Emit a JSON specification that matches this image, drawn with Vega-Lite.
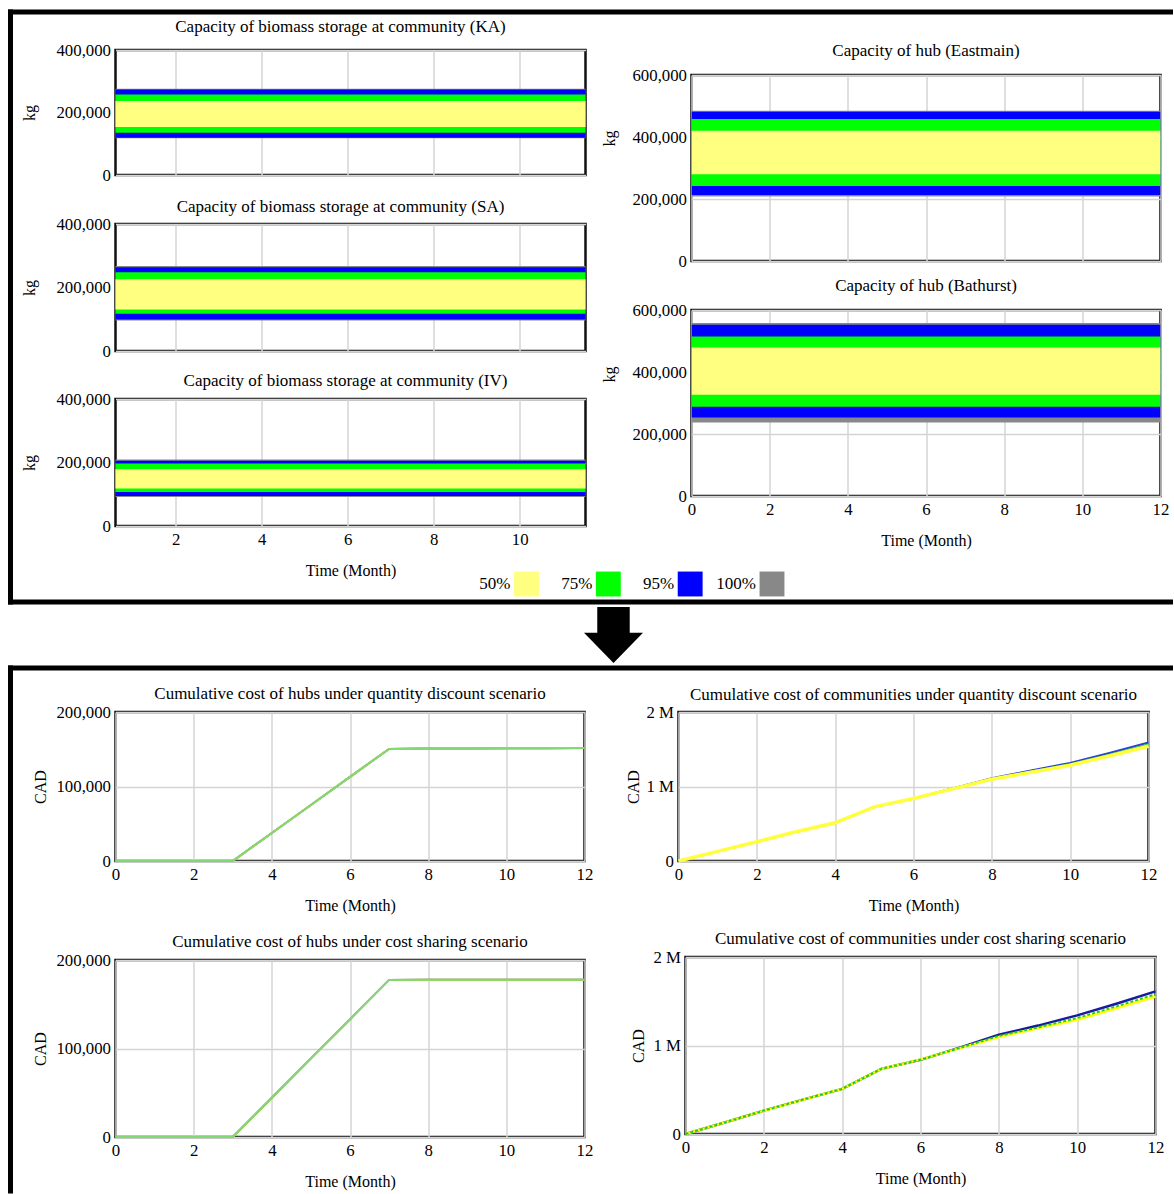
{
"$schema":"https://vega.github.io/schema/vega-lite/v6.json",
"usermeta":{"embedOptions":{"actions":false}},
"padding":{"left":7.5,"top":9,"right":0,"bottom":0},
"autosize":{"type":"pad"},
"background":"white",
"data":{"values":[{"d":0}]},
"datasets":{
"bands":[
{"panel":"KA","band":"100%","lo":117900,"hi":275700,"t0":0,"t1":12},
{"panel":"KA","band":"95%","lo":119500,"hi":273700,"t0":0,"t1":12},
{"panel":"KA","band":"75%","lo":135600,"hi":257700,"t0":0,"t1":12},
{"panel":"KA","band":"50%","lo":153600,"hi":237100,"t0":0,"t1":12},
{"panel":"SA","band":"100%","lo":96400,"hi":267500,"t0":0,"t1":12},
{"panel":"SA","band":"95%","lo":99500,"hi":263800,"t0":0,"t1":12},
{"panel":"SA","band":"75%","lo":117400,"hi":248000,"t0":0,"t1":12},
{"panel":"SA","band":"50%","lo":130900,"hi":226000,"t0":0,"t1":12},
{"panel":"IV","band":"100%","lo":91600,"hi":209600,"t0":0,"t1":12},
{"panel":"IV","band":"95%","lo":94700,"hi":205200,"t0":0,"t1":12},
{"panel":"IV","band":"75%","lo":107300,"hi":197000,"t0":0,"t1":12},
{"panel":"IV","band":"50%","lo":118100,"hi":179000,"t0":0,"t1":12},
{"panel":"Eastmain","band":"100%","lo":207800,"hi":484700,"t0":0,"t1":12},
{"panel":"Eastmain","band":"95%","lo":213300,"hi":481400,"t0":0,"t1":12},
{"panel":"Eastmain","band":"75%","lo":242300,"hi":457800,"t0":0,"t1":12},
{"panel":"Eastmain","band":"50%","lo":280100,"hi":420000,"t0":0,"t1":12},
{"panel":"Bathurst","band":"100%","lo":236800,"hi":558000,"t0":0,"t1":12},
{"panel":"Bathurst","band":"95%","lo":253000,"hi":552500,"t0":0,"t1":12},
{"panel":"Bathurst","band":"75%","lo":287600,"hi":514700,"t0":0,"t1":12},
{"panel":"Bathurst","band":"50%","lo":326300,"hi":479200,"t0":0,"t1":12}
],
"lines":[
{"chart":"HQD","series":"95%","t":0,"v":0},{"chart":"HQD","series":"95%","t":1,"v":0},{"chart":"HQD","series":"95%","t":2,"v":0},{"chart":"HQD","series":"95%","t":3,"v":0},{"chart":"HQD","series":"95%","t":4,"v":37600},{"chart":"HQD","series":"95%","t":5,"v":75200},{"chart":"HQD","series":"95%","t":6,"v":112900},{"chart":"HQD","series":"95%","t":7,"v":150500},{"chart":"HQD","series":"95%","t":8,"v":150900},{"chart":"HQD","series":"95%","t":9,"v":151100},{"chart":"HQD","series":"95%","t":10,"v":151300},{"chart":"HQD","series":"95%","t":11,"v":151500},{"chart":"HQD","series":"95%","t":12,"v":151700},
{"chart":"HQD","series":"50%","t":0,"v":0},{"chart":"HQD","series":"50%","t":1,"v":0},{"chart":"HQD","series":"50%","t":2,"v":0},{"chart":"HQD","series":"50%","t":3,"v":0},{"chart":"HQD","series":"50%","t":4,"v":37600},{"chart":"HQD","series":"50%","t":5,"v":75200},{"chart":"HQD","series":"50%","t":6,"v":112900},{"chart":"HQD","series":"50%","t":7,"v":150500},{"chart":"HQD","series":"50%","t":8,"v":150900},{"chart":"HQD","series":"50%","t":9,"v":151100},{"chart":"HQD","series":"50%","t":10,"v":151300},{"chart":"HQD","series":"50%","t":11,"v":151500},{"chart":"HQD","series":"50%","t":12,"v":151700},
{"chart":"HQD","series":"75%","t":0,"v":0},{"chart":"HQD","series":"75%","t":1,"v":0},{"chart":"HQD","series":"75%","t":2,"v":0},{"chart":"HQD","series":"75%","t":3,"v":0},{"chart":"HQD","series":"75%","t":4,"v":37600},{"chart":"HQD","series":"75%","t":5,"v":75200},{"chart":"HQD","series":"75%","t":6,"v":112900},{"chart":"HQD","series":"75%","t":7,"v":150500},{"chart":"HQD","series":"75%","t":8,"v":150900},{"chart":"HQD","series":"75%","t":9,"v":151100},{"chart":"HQD","series":"75%","t":10,"v":151300},{"chart":"HQD","series":"75%","t":11,"v":151500},{"chart":"HQD","series":"75%","t":12,"v":151700},
{"chart":"HCS","series":"95%","t":0,"v":0},{"chart":"HCS","series":"95%","t":1,"v":0},{"chart":"HCS","series":"95%","t":2,"v":0},{"chart":"HCS","series":"95%","t":3,"v":0},{"chart":"HCS","series":"95%","t":4,"v":44400},{"chart":"HCS","series":"95%","t":5,"v":88800},{"chart":"HCS","series":"95%","t":6,"v":133100},{"chart":"HCS","series":"95%","t":7,"v":177500},{"chart":"HCS","series":"95%","t":8,"v":177600},{"chart":"HCS","series":"95%","t":9,"v":177700},{"chart":"HCS","series":"95%","t":10,"v":177700},{"chart":"HCS","series":"95%","t":11,"v":177800},{"chart":"HCS","series":"95%","t":12,"v":177800},
{"chart":"HCS","series":"50%","t":0,"v":0},{"chart":"HCS","series":"50%","t":1,"v":0},{"chart":"HCS","series":"50%","t":2,"v":0},{"chart":"HCS","series":"50%","t":3,"v":0},{"chart":"HCS","series":"50%","t":4,"v":44400},{"chart":"HCS","series":"50%","t":5,"v":88800},{"chart":"HCS","series":"50%","t":6,"v":133100},{"chart":"HCS","series":"50%","t":7,"v":177500},{"chart":"HCS","series":"50%","t":8,"v":177600},{"chart":"HCS","series":"50%","t":9,"v":177700},{"chart":"HCS","series":"50%","t":10,"v":177700},{"chart":"HCS","series":"50%","t":11,"v":177800},{"chart":"HCS","series":"50%","t":12,"v":177800},
{"chart":"HCS","series":"75%","t":0,"v":0},{"chart":"HCS","series":"75%","t":1,"v":0},{"chart":"HCS","series":"75%","t":2,"v":0},{"chart":"HCS","series":"75%","t":3,"v":0},{"chart":"HCS","series":"75%","t":4,"v":44400},{"chart":"HCS","series":"75%","t":5,"v":88800},{"chart":"HCS","series":"75%","t":6,"v":133100},{"chart":"HCS","series":"75%","t":7,"v":177500},{"chart":"HCS","series":"75%","t":8,"v":177600},{"chart":"HCS","series":"75%","t":9,"v":177700},{"chart":"HCS","series":"75%","t":10,"v":177700},{"chart":"HCS","series":"75%","t":11,"v":177800},{"chart":"HCS","series":"75%","t":12,"v":177800},
{"chart":"CQD","series":"95%","t":0,"v":0},{"chart":"CQD","series":"95%","t":1,"v":129000},{"chart":"CQD","series":"95%","t":2,"v":258500},{"chart":"CQD","series":"95%","t":3,"v":392000},{"chart":"CQD","series":"95%","t":4,"v":513000},{"chart":"CQD","series":"95%","t":5,"v":727000},{"chart":"CQD","series":"95%","t":6,"v":840000},{"chart":"CQD","series":"95%","t":7,"v":975000},{"chart":"CQD","series":"95%","t":8,"v":1110000},{"chart":"CQD","series":"95%","t":9,"v":1215000},{"chart":"CQD","series":"95%","t":10,"v":1317000},{"chart":"CQD","series":"95%","t":11,"v":1450000},{"chart":"CQD","series":"95%","t":12,"v":1590000},
{"chart":"CQD","series":"75%","t":0,"v":0},{"chart":"CQD","series":"75%","t":1,"v":129000},{"chart":"CQD","series":"75%","t":2,"v":258500},{"chart":"CQD","series":"75%","t":3,"v":392000},{"chart":"CQD","series":"75%","t":4,"v":513000},{"chart":"CQD","series":"75%","t":5,"v":727000},{"chart":"CQD","series":"75%","t":6,"v":840000},{"chart":"CQD","series":"75%","t":7,"v":972000},{"chart":"CQD","series":"75%","t":8,"v":1105000},{"chart":"CQD","series":"75%","t":9,"v":1200000},{"chart":"CQD","series":"75%","t":10,"v":1300000},{"chart":"CQD","series":"75%","t":11,"v":1428000},{"chart":"CQD","series":"75%","t":12,"v":1565000},
{"chart":"CQD","series":"50%","t":0,"v":0},{"chart":"CQD","series":"50%","t":1,"v":129000},{"chart":"CQD","series":"50%","t":2,"v":258500},{"chart":"CQD","series":"50%","t":3,"v":392000},{"chart":"CQD","series":"50%","t":4,"v":513000},{"chart":"CQD","series":"50%","t":5,"v":727000},{"chart":"CQD","series":"50%","t":6,"v":838000},{"chart":"CQD","series":"50%","t":7,"v":968000},{"chart":"CQD","series":"50%","t":8,"v":1098000},{"chart":"CQD","series":"50%","t":9,"v":1190000},{"chart":"CQD","series":"50%","t":10,"v":1286000},{"chart":"CQD","series":"50%","t":11,"v":1410000},{"chart":"CQD","series":"50%","t":12,"v":1540000},
{"chart":"CCS","series":"95%","t":0,"v":0},{"chart":"CCS","series":"95%","t":1,"v":130000},{"chart":"CCS","series":"95%","t":2,"v":264000},{"chart":"CCS","series":"95%","t":3,"v":388000},{"chart":"CCS","series":"95%","t":4,"v":510000},{"chart":"CCS","series":"95%","t":5,"v":736000},{"chart":"CCS","series":"95%","t":6,"v":838000},{"chart":"CCS","series":"95%","t":7,"v":975000},{"chart":"CCS","series":"95%","t":8,"v":1121000},{"chart":"CCS","series":"95%","t":9,"v":1225000},{"chart":"CCS","series":"95%","t":10,"v":1340000},{"chart":"CCS","series":"95%","t":11,"v":1472000},{"chart":"CCS","series":"95%","t":12,"v":1611000},
{"chart":"CCS","series":"75%","t":0,"v":0},{"chart":"CCS","series":"75%","t":1,"v":130000},{"chart":"CCS","series":"75%","t":2,"v":264000},{"chart":"CCS","series":"75%","t":3,"v":388000},{"chart":"CCS","series":"75%","t":4,"v":510000},{"chart":"CCS","series":"75%","t":5,"v":736000},{"chart":"CCS","series":"75%","t":6,"v":840000},{"chart":"CCS","series":"75%","t":7,"v":972000},{"chart":"CCS","series":"75%","t":8,"v":1108000},{"chart":"CCS","series":"75%","t":9,"v":1205000},{"chart":"CCS","series":"75%","t":10,"v":1310000},{"chart":"CCS","series":"75%","t":11,"v":1442000},{"chart":"CCS","series":"75%","t":12,"v":1578000},
{"chart":"CCS","series":"50%","t":0,"v":0},{"chart":"CCS","series":"50%","t":1,"v":130000},{"chart":"CCS","series":"50%","t":2,"v":264000},{"chart":"CCS","series":"50%","t":3,"v":388000},{"chart":"CCS","series":"50%","t":4,"v":510000},{"chart":"CCS","series":"50%","t":5,"v":736000},{"chart":"CCS","series":"50%","t":6,"v":843000},{"chart":"CCS","series":"50%","t":7,"v":970000},{"chart":"CCS","series":"50%","t":8,"v":1096000},{"chart":"CCS","series":"50%","t":9,"v":1195000},{"chart":"CCS","series":"50%","t":10,"v":1291000},{"chart":"CCS","series":"50%","t":11,"v":1420000},{"chart":"CCS","series":"50%","t":12,"v":1555000}
]
},
"bounds":"flush",
"spacing":0,
"vconcat":[
{"vconcat":[{"width":1160,"height":0.001,"view":{"stroke":"black","strokeWidth":5},"mark":{"type":"point","size":0,"opacity":0}}],"spacing":0,"bounds":"flush"},
{"hconcat":[
 {"width":105,"height":0.001,"mark":{"type":"point","size":0,"opacity":0}},
 {"vconcat":[
  {"width":0.001,"height":38,"mark":{"type":"point","size":0,"opacity":0}},
  {"width":470,"height":125,"view":{"stroke":"#111","strokeWidth":2.5},
   "title":{"text":"Capacity of biomass storage at community (KA)","offset":6.3,"dx":-10},
   "data":{"name":"bands"},"transform":[{"filter":"datum.panel === 'KA'"}],
   "mark":{"type":"rect","clip":true},
   "encoding":{
    "x":{"field":"t0","type":"quantitative","scale":{"domain":[0.6,11.53],"nice":false,"zero":false},"axis":{"values":[2,4,6,8,10],"labels":false,"title":null}},
    "x2":{"field":"t1"},
    "y":{"field":"lo","type":"quantitative","scale":{"domain":[0,400000],"nice":false},"axis":{"values":[0,200000,400000],"format":",d","title":"kg","titlePadding":18}},
    "y2":{"field":"hi"},
    "color":{"field":"band","type":"nominal","scale":{"domain":["50%","75%","95%","100%"],"range":["#ffff80","#00ff00","#0000ff","#888888"]},"legend":null}}},
  {"width":0.001,"height":49,"mark":{"type":"point","size":0,"opacity":0}},
  {"width":470,"height":127,"view":{"stroke":"#111","strokeWidth":2.5},
   "title":{"text":"Capacity of biomass storage at community (SA)","offset":0,"dx":-10},
   "data":{"name":"bands"},"transform":[{"filter":"datum.panel === 'SA'"}],
   "mark":{"type":"rect","clip":true},
   "encoding":{
    "x":{"field":"t0","type":"quantitative","scale":{"domain":[0.6,11.53],"nice":false,"zero":false},"axis":{"values":[2,4,6,8,10],"labels":false,"title":null}},
    "x2":{"field":"t1"},
    "y":{"field":"lo","type":"quantitative","scale":{"domain":[0,400000],"nice":false},"axis":{"values":[0,200000,400000],"format":",d","title":"kg","titlePadding":18}},
    "y2":{"field":"hi"},
    "color":{"field":"band","type":"nominal","scale":{"domain":["50%","75%","95%","100%"],"range":["#ffff80","#00ff00","#0000ff","#888888"]},"legend":null}}},
  {"width":0.001,"height":48,"mark":{"type":"point","size":0,"opacity":0}},
  {"width":470,"height":127,"view":{"stroke":"#111","strokeWidth":2.5},
   "title":{"text":"Capacity of biomass storage at community (IV)","offset":1.3,"dx":-5},
   "data":{"name":"bands"},"transform":[{"filter":"datum.panel === 'IV'"}],
   "mark":{"type":"rect","clip":true},
   "encoding":{
    "x":{"field":"t0","type":"quantitative","scale":{"domain":[0.6,11.53],"nice":false,"zero":false},"axis":{"values":[2,4,6,8,10],"title":"Time (Month)"}},
    "x2":{"field":"t1"},
    "y":{"field":"lo","type":"quantitative","scale":{"domain":[0,400000],"nice":false},"axis":{"values":[0,200000,400000],"format":",d","title":"kg","titlePadding":18}},
    "y2":{"field":"hi"},
    "color":{"field":"band","type":"nominal","scale":{"domain":["50%","75%","95%","100%"],"range":["#ffff80","#00ff00","#0000ff","#888888"]},"legend":null}}},
  {"width":0.001,"height":46,"mark":{"type":"point","size":0,"opacity":0}},
  {"hconcat":[
   {"width":411,"height":0.001,"mark":{"type":"point","size":0,"opacity":0}},
   {"width":245.5,"height":24,
    "data":{"values":[{"pct":"50%"},{"pct":"75%"},{"pct":"95%"},{"pct":"100%"}]},
    "encoding":{"x":{"field":"pct","type":"nominal","sort":null,"scale":{"type":"point","padding":0},"axis":null}},
    "layer":[
     {"mark":{"type":"square","size":620,"opacity":1,"strokeWidth":0},"encoding":{"color":{"field":"pct","type":"nominal","scale":{"domain":["50%","75%","95%","100%"],"range":["#ffff80","#00ff00","#0000ff","#888888"]},"legend":null}}},
     {"mark":{"type":"text","align":"right","baseline":"middle","dx":-16,"font":"Liberation Serif","fontSize":17,"color":"#000"},"encoding":{"text":{"field":"pct"}}}
    ]}
  ],"spacing":0,"bounds":"flush"}
 ],"spacing":0,"bounds":"flush"},
 {"width":576,"height":0.001,"mark":{"type":"point","size":0,"opacity":0}},
 {"vconcat":[
  {"width":0.001,"height":63,"mark":{"type":"point","size":0,"opacity":0}},
  {"width":469,"height":186,"view":{"stroke":"#111","strokeWidth":2.5},
   "title":{"text":"Capacity of hub (Eastmain)","offset":7.3},
   "data":{"name":"bands"},"transform":[{"filter":"datum.panel === 'Eastmain'"}],
   "mark":{"type":"rect","clip":true},
   "encoding":{
    "x":{"field":"t0","type":"quantitative","scale":{"domain":[0,12],"nice":false},"axis":{"values":[0,2,4,6,8,10,12],"labels":false,"title":null}},
    "x2":{"field":"t1"},
    "y":{"field":"lo","type":"quantitative","scale":{"domain":[0,600000],"nice":false},"axis":{"values":[0,200000,400000,600000],"format":",d","title":"kg","titlePadding":14,"titleY":63}},
    "y2":{"field":"hi"},
    "color":{"field":"band","type":"nominal","scale":{"domain":["50%","75%","95%","100%"],"range":["#ffff80","#00ff00","#0000ff","#888888"]},"legend":null}}},
  {"width":0.001,"height":49,"mark":{"type":"point","size":0,"opacity":0}},
  {"width":469,"height":186,"view":{"stroke":"#111","strokeWidth":2.5},
   "title":{"text":"Capacity of hub (Bathurst)","offset":7.3},
   "data":{"name":"bands"},"transform":[{"filter":"datum.panel === 'Bathurst'"}],
   "mark":{"type":"rect","clip":true},
   "encoding":{
    "x":{"field":"t0","type":"quantitative","scale":{"domain":[0,12],"nice":false},"axis":{"values":[0,2,4,6,8,10,12],"title":"Time (Month)"}},
    "x2":{"field":"t1"},
    "y":{"field":"lo","type":"quantitative","scale":{"domain":[0,600000],"nice":false},"axis":{"values":[0,200000,400000,600000],"format":",d","title":"kg","titlePadding":14,"titleY":64}},
    "y2":{"field":"hi"},
    "color":{"field":"band","type":"nominal","scale":{"domain":["50%","75%","95%","100%"],"range":["#ffff80","#00ff00","#0000ff","#888888"]},"legend":null}}}
 ],"spacing":0,"bounds":"flush"}
],"spacing":0,"bounds":"flush"},
{"width":0.001,"height":590,"view":{"stroke":"black","strokeWidth":5},"mark":{"type":"point","size":0,"opacity":0}},
{"vconcat":[{"width":1160,"height":0.001,"view":{"stroke":"black","strokeWidth":5},"mark":{"type":"point","size":0,"opacity":0}}],"spacing":0,"bounds":"flush"},
{"hconcat":[
 {"width":573,"height":0.001,"mark":{"type":"point","size":0,"opacity":0}},
 {"width":60,"height":66,
  "data":{"values":[{"ax":0,"ay":0}]},
  "mark":{"type":"point","shape":"M-0.55,-0.95L0.55,-0.95L0.55,-0.08L1,-0.08L0,0.95L-1,-0.08L-0.55,-0.08Z","size":3481,"filled":true,"color":"black","opacity":1,"strokeWidth":0},
  "encoding":{"x":{"field":"ax","type":"quantitative","scale":{"domain":[-1,1]},"axis":null},"y":{"field":"ay","type":"quantitative","scale":{"domain":[-1,1]},"axis":null}}}
],"spacing":0,"bounds":"flush"},
{"width":0.001,"height":66,"mark":{"type":"point","size":0,"opacity":0}},
{"vconcat":[{"width":1160,"height":0.001,"view":{"stroke":"black","strokeWidth":5},"mark":{"type":"point","size":0,"opacity":0}}],"spacing":0,"bounds":"flush"},
{"hconcat":[
 {"width":105,"height":0.001,"mark":{"type":"point","size":0,"opacity":0}},
 {"vconcat":[
  {"width":0.001,"height":44,"mark":{"type":"point","size":0,"opacity":0}},
  {"width":469,"height":149,"view":{"stroke":"#111","strokeWidth":2.5},
   "title":{"text":"Cumulative cost of hubs under quantity discount scenario","offset":1.3},
   "data":{"name":"lines"},"transform":[{"filter":"datum.chart === 'HQD'"}],
   "encoding":{
    "x":{"field":"t","type":"quantitative","scale":{"domain":[0,12],"nice":false},"axis":{"values":[0,2,4,6,8,10,12],"title":"Time (Month)"}},
    "y":{"field":"v","type":"quantitative","scale":{"domain":[0,200000],"nice":false},"axis":{"values":[0,100000,200000],"format":",d","title":"CAD","titlePadding":7.5}}},
   "layer":[
    {"transform":[{"filter":"datum.series === '95%'"}],"mark":{"type":"line","color":"#0000ff","strokeWidth":2}},
    {"transform":[{"filter":"datum.series === '50%'"}],"mark":{"type":"line","color":"#ffff00","strokeWidth":2}},
    {"transform":[{"filter":"datum.series === '75%'"}],"mark":{"type":"line","color":"#80d870","strokeWidth":2}}
   ]},
  {"width":0.001,"height":99,"mark":{"type":"point","size":0,"opacity":0}},
  {"width":469,"height":177,"view":{"stroke":"#111","strokeWidth":2.5},
   "title":{"text":"Cumulative cost of hubs under cost sharing scenario","offset":0.8},
   "data":{"name":"lines"},"transform":[{"filter":"datum.chart === 'HCS'"}],
   "encoding":{
    "x":{"field":"t","type":"quantitative","scale":{"domain":[0,12],"nice":false},"axis":{"values":[0,2,4,6,8,10,12],"title":"Time (Month)"}},
    "y":{"field":"v","type":"quantitative","scale":{"domain":[0,200000],"nice":false},"axis":{"values":[0,100000,200000],"format":",d","title":"CAD","titlePadding":7.5}}},
   "layer":[
    {"transform":[{"filter":"datum.series === '95%'"}],"mark":{"type":"line","color":"#0000ff","strokeWidth":2}},
    {"transform":[{"filter":"datum.series === '50%'"}],"mark":{"type":"line","color":"#ffff00","strokeWidth":2}},
    {"transform":[{"filter":"datum.series === '75%'"}],"mark":{"type":"line","color":"#80d870","strokeWidth":2}}
   ]}
 ],"spacing":0,"bounds":"flush"},
 {"width":563,"height":0.001,"mark":{"type":"point","size":0,"opacity":0}},
 {"vconcat":[
  {"width":0.001,"height":44,"mark":{"type":"point","size":0,"opacity":0}},
  {"width":470,"height":149,"view":{"stroke":"#111","strokeWidth":2.5},
   "title":{"text":"Cumulative cost of communities under quantity discount scenario","offset":0.3},
   "data":{"name":"lines"},"transform":[{"filter":"datum.chart === 'CQD'"}],
   "encoding":{
    "x":{"field":"t","type":"quantitative","scale":{"domain":[0,12],"nice":false},"axis":{"values":[0,2,4,6,8,10,12],"title":"Time (Month)"}},
    "y":{"field":"v","type":"quantitative","scale":{"domain":[0,2000000],"nice":false},"axis":{"values":[0,1000000,2000000],"labelExpr":"datum.value === 0 ? '0' : (datum.value / 1000000) + ' M'","title":"CAD","titlePadding":4}}},
   "layer":[
    {"transform":[{"filter":"datum.series === '95%'"}],"mark":{"type":"line","color":"#3040d0","strokeWidth":2}},
    {"transform":[{"filter":"datum.series === '75%'"}],"mark":{"type":"line","color":"#30d030","strokeWidth":2}},
    {"transform":[{"filter":"datum.series === '50%'"}],"mark":{"type":"line","color":"#ffff40","strokeWidth":3.5}}
   ]}
 ],"spacing":0,"bounds":"flush"},
 {"width":7,"height":0.001,"mark":{"type":"point","size":0,"opacity":0}},
 {"vconcat":[
  {"width":0.001,"height":289,"mark":{"type":"point","size":0,"opacity":0}},
  {"width":470,"height":177,"view":{"stroke":"#111","strokeWidth":2.5},
   "title":{"text":"Cumulative cost of communities under cost sharing scenario","offset":1.3},
   "data":{"name":"lines"},"transform":[{"filter":"datum.chart === 'CCS'"}],
   "encoding":{
    "x":{"field":"t","type":"quantitative","scale":{"domain":[0,12],"nice":false},"axis":{"values":[0,2,4,6,8,10,12],"title":"Time (Month)"}},
    "y":{"field":"v","type":"quantitative","scale":{"domain":[0,2000000],"nice":false},"axis":{"values":[0,1000000,2000000],"labelExpr":"datum.value === 0 ? '0' : (datum.value / 1000000) + ' M'","title":"CAD","titlePadding":6.5}}},
   "layer":[
    {"transform":[{"filter":"datum.series === '95%'"}],"mark":{"type":"line","color":"#1a1aa0","strokeWidth":2.5}},
    {"transform":[{"filter":"datum.series === '50%'"}],"mark":{"type":"line","color":"#ffff00","strokeWidth":2.6}},
    {"transform":[{"filter":"datum.series === '75%'"}],"mark":{"type":"line","color":"#22cc22","strokeWidth":2,"strokeDash":[3,2]}}
   ]}
 ],"spacing":0,"bounds":"flush"}
],"spacing":0,"bounds":"flush"},
{"width":0.001,"height":523,"view":{"stroke":"black","strokeWidth":5},"mark":{"type":"point","size":0,"opacity":0}}
],
"config":{
 "view":{"stroke":null},
 "font":"Liberation Serif",
 "axis":{"labelFont":"Liberation Serif","labelFontSize":16.8,"labelColor":"#000","titleFont":"Liberation Serif","titleFontSize":16,"titleFontWeight":"normal","titleColor":"#000","domain":false,"ticks":false,"grid":true,"gridColor":"#d4d4d4","gridWidth":1.5,"labelPadding":5,"titlePadding":15,"labelOverlap":false,"labelFlush":false},
 "title":{"font":"Liberation Serif","fontSize":17,"fontWeight":"normal","color":"#000","frame":"group","baseline":"middle","anchor":"middle"}
}
}
